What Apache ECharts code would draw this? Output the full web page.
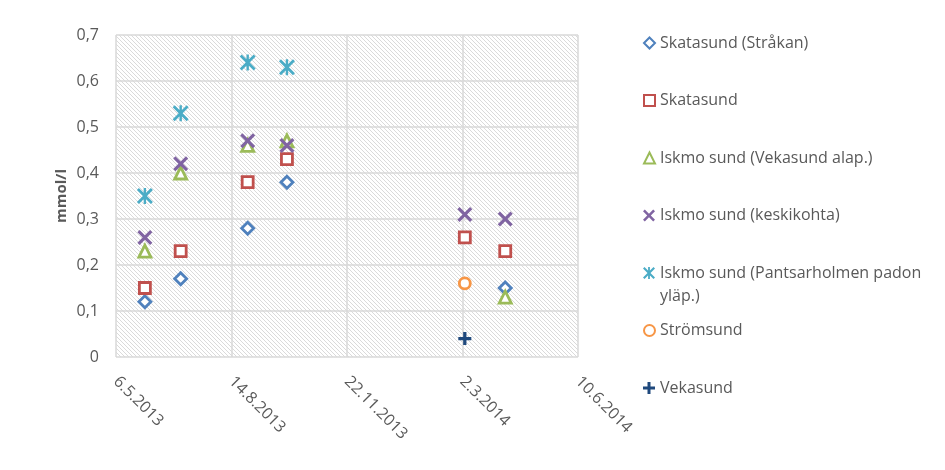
<!DOCTYPE html>
<html>
<head>
<meta charset="utf-8">
<script src="https://cdn.jsdelivr.net/npm/echarts@6/dist/echarts.min.js"></script>
<style>html,body{margin:0;padding:0;background:#fff;}#c{width:945px;height:470px;}</style>
</head>
<body>
<div id="c"></div>
<script>
// ---- data ----
const sampleDates = ['2013-05-31', '2013-07-01', '2013-08-28', '2013-10-01', '2014-03-04', '2014-04-08'];
const xTickLabels = ['6.5.2013', '14.8.2013', '22.11.2013', '2.3.2014', '10.6.2014'];
const seriesNames = [
  'Skatasund (Stråkan)',
  'Skatasund',
  'Iskmo sund (Vekasund alap.)',
  'Iskmo sund (keskikohta)',
  'Iskmo sund (Pantsarholmen padon yläp.)',
  'Strömsund',
  'Vekasund'
];
const strakan      = [0.12, 0.17, 0.28, 0.38, null, 0.15];
const skatasund    = [0.15, 0.23, 0.38, 0.43, 0.26, 0.23];
const vekasundAlap = [0.23, 0.40, 0.46, 0.47, null, 0.13];
const keskikohta   = [0.26, 0.42, 0.47, 0.46, 0.31, 0.30];
const pantsar      = [0.35, 0.53, 0.64, 0.63, null, null];
const stromsund    = [null, null, null, null, 0.16, null];
const vekasund     = [null, null, null, null, 0.04, null];
const seriesValues = [strakan, skatasund, vekasundAlap, keskikohta, pantsar, stromsund, vekasund];

// ---- styles ----
const colors = ['#4f81bd', '#c0504d', '#9bbb59', '#8064a2', '#4bacc6', '#f79646', '#1f497d'];
const X_PATH = 'path://M0,3 L3,0 L10,7 L17,0 L20,3 L13,10 L20,17 L17,20 L10,13 L3,20 L0,17 L7,10 Z';
const AST_PATH = 'path://M0,2.5 L2.5,0 L10,7.5 L17.5,0 L20,2.5 L12.5,10 L20,17.5 L17.5,20 L10,12.5 L2.5,20 L0,17.5 L7.5,10 Z M8.5,0 L11.5,0 L11.5,20 L8.5,20 Z';
const PLUS_PATH = 'path://M7.5,0 L12.5,0 L12.5,7.5 L20,7.5 L20,12.5 L12.5,12.5 L12.5,20 L7.5,20 L7.5,12.5 L0,12.5 L0,7.5 L7.5,7.5 Z';
const symbols = ['diamond', 'rect', 'triangle', X_PATH, AST_PATH, 'circle', PLUS_PATH];
const symbolSizes = [12, 11, 12, 15, 16, 11, 13];
const legendIconSizes = [11, 11, 11, 12, 12, 11, 12];
const hollow = [true, true, true, false, false, true, false];
const legendCenters = [43, 100.5, 158, 215.5, 273, 330.5, 388];

const base = Date.UTC(2013, 4, 6);
function dayOffset(s) {
  const p = s.split('-').map(Number);
  return (Date.UTC(p[0], p[1] - 1, p[2]) - base) / 86400000;
}

// hatch pattern
const pc = document.createElement('canvas');
pc.width = 4; pc.height = 4;
const pctx = pc.getContext('2d');
pctx.fillStyle = '#ffffff'; pctx.fillRect(0, 0, 4, 4);
pctx.fillStyle = '#dadada';
for (let i = 0; i < 4; i++) pctx.fillRect(i, i, 1, 1);

const FONT = 'Open Sans';
const TXT = '#595959';

const series = seriesNames.map((name, k) => ({
  name: name,
  type: 'scatter',
  symbol: symbols[k],
  symbolSize: symbolSizes[k],
  itemStyle: hollow[k]
    ? { color: '#ffffff', borderColor: colors[k], borderWidth: 2.8, opacity: 1 }
    : { color: colors[k], borderWidth: 0, opacity: 1 },
  data: sampleDates.map((d, i) => [dayOffset(d), seriesValues[k][i]]).filter(p => p[1] !== null)
}));

const legends = seriesNames.map((name, k) => {
  const wrap = k === 4;
  return {
    data: [name],
    orient: 'vertical',
    left: 643,
    top: wrap ? legendCenters[k] - 34.5 : legendCenters[k] - 11.5,
    padding: 0,
    itemWidth: legendIconSizes[k],
    itemHeight: legendIconSizes[k],
    itemGap: 0,
    selectedMode: false,
    formatter: wrap ? function () { return '\nIskmo sund (Pantsarholmen padon\nyläp.)'; } : undefined,
    textStyle: { fontFamily: FONT, fontSize: 16, color: TXT, lineHeight: 23 }
  };
});

const chart = echarts.init(document.getElementById('c'), null, { renderer: 'canvas' });
chart.setOption({
  animation: false,
  backgroundColor: '#ffffff',
  grid: {
    left: 116, top: 35, right: 367, bottom: 113,
    show: true,
    backgroundColor: { image: pc, repeat: 'repeat' },
    borderWidth: 0
  },
  xAxis: {
    type: 'value',
    min: 0, max: 400, interval: 100,
    axisLine: { show: false },
    axisTick: { show: false },
    splitLine: { show: true, lineStyle: { color: '#d9d9d9', width: 1.5 } },
    axisLabel: {
      rotate: -45,
      margin: 22,
      fontFamily: FONT, fontSize: 16, color: TXT,
      formatter: v => xTickLabels[Math.round(v / 100)]
    }
  },
  yAxis: {
    type: 'value',
    min: 0, max: 0.7, interval: 0.1,
    name: 'mmol/l',
    nameLocation: 'middle',
    nameRotate: 90,
    nameGap: 47,
    nameTextStyle: { fontFamily: FONT, fontSize: 15, fontWeight: 'bold', color: TXT },
    axisLine: { show: false },
    axisTick: { show: false },
    splitLine: { show: true, lineStyle: { color: '#d9d9d9', width: 1.5 } },
    axisLabel: {
      margin: 17,
      fontFamily: FONT, fontSize: 16, color: TXT,
      formatter: v => (v === 0 ? '0' : v.toFixed(1).replace('.', ','))
    }
  },
  legend: legends,
  series: series
});
</script>
</body>
</html>
